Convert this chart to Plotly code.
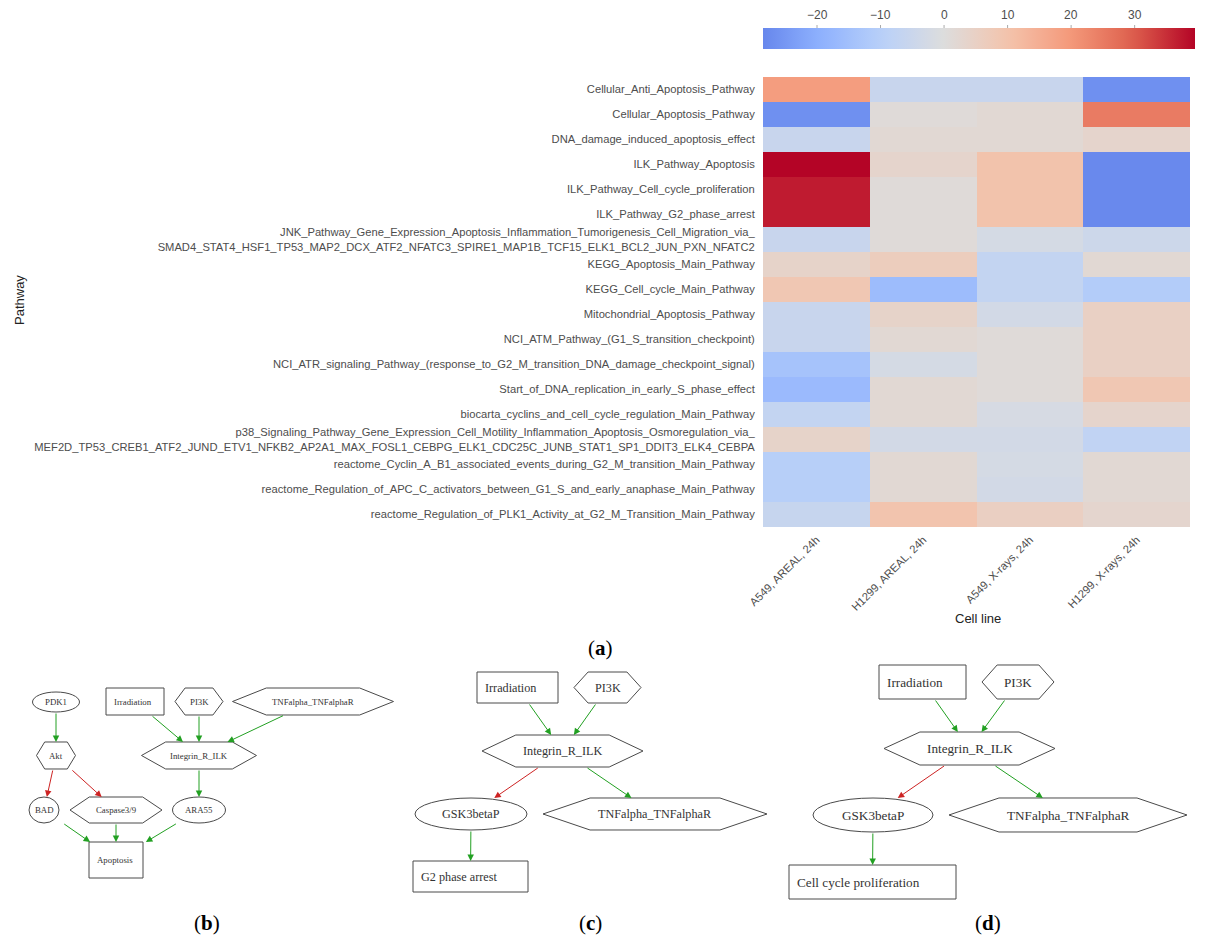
import plotly.graph_objects as go

# ---------------- heatmap data ----------------
pathways = [
    "Cellular_Anti_Apoptosis_Pathway",
    "Cellular_Apoptosis_Pathway",
    "DNA_damage_induced_apoptosis_effect",
    "ILK_Pathway_Apoptosis",
    "ILK_Pathway_Cell_cycle_proliferation",
    "ILK_Pathway_G2_phase_arrest",
    "JNK_Pathway_Gene_Expression_Apoptosis_Inflammation_Tumorigenesis_Cell_Migration_via_<br>SMAD4_STAT4_HSF1_TP53_MAP2_DCX_ATF2_NFATC3_SPIRE1_MAP1B_TCF15_ELK1_BCL2_JUN_PXN_NFATC2",
    "KEGG_Apoptosis_Main_Pathway",
    "KEGG_Cell_cycle_Main_Pathway",
    "Mitochondrial_Apoptosis_Pathway",
    "NCI_ATM_Pathway_(G1_S_transition_checkpoint)",
    "NCI_ATR_signaling_Pathway_(response_to_G2_M_transition_DNA_damage_checkpoint_signal)",
    "Start_of_DNA_replication_in_early_S_phase_effect",
    "biocarta_cyclins_and_cell_cycle_regulation_Main_Pathway",
    "p38_Signaling_Pathway_Gene_Expression_Cell_Motility_Inflammation_Apoptosis_Osmoregulation_via_<br>MEF2D_TP53_CREB1_ATF2_JUND_ETV1_NFKB2_AP2A1_MAX_FOSL1_CEBPG_ELK1_CDC25C_JUNB_STAT1_SP1_DDIT3_ELK4_CEBPA",
    "reactome_Cyclin_A_B1_associated_events_during_G2_M_transition_Main_Pathway",
    "reactome_Regulation_of_APC_C_activators_between_G1_S_and_early_anaphase_Main_Pathway",
    "reactome_Regulation_of_PLK1_Activity_at_G2_M_Transition_Main_Pathway",
]
cell_lines = ["A549, AREAL, 24h", "H1299, AREAL, 24h", "A549, X-rays, 24h", "H1299, X-rays, 24h"]

a549_areal = [19, -26.5, -5.5, 39.5, 37, 37, -5.5, 4, 8.5, -5.5, -5.5, -14, -16.5, -7, 4, -10, -10, -6]
h1299_areal = [-5.5, 1, 2, 3.5, 1, 1, 1, 6.5, -16, 4, 2, -2.5, 2, 2, -3, 2, 2, 9.5]
a549_xrays = [-5.5, 2, 2, 10, 10, 10, -2.5, -7, -7, -3, 1, 1, 1, -2, -3, -2.5, -3, 5.5]
h1299_xrays = [-26.5, 25, 3.5, -28, -28, -28, -4.5, 2, -11, 5, 5, 5, 8.5, 3.5, -7.5, 2, 2, 3]

cbar_ticks = [-20, -10, 0, 10, 20, 30]
zmin, zmax = -28.5, 39.5

# coolwarm, centred on 0 (symmetric), cropped to data range
cw = [(0.0, (58, 76, 193)), (0.125, (98, 130, 234)), (0.25, (141, 176, 254)),
      (0.375, (184, 208, 249)), (0.5, (221, 221, 221)), (0.625, (244, 196, 173)),
      (0.75, (244, 154, 123)), (0.875, (222, 96, 77)), (1.0, (180, 4, 38))]


def cw_at(t):
    for (t0, c0), (t1, c1) in zip(cw[:-1], cw[1:]):
        if t <= t1:
            f = (t - t0) / (t1 - t0)
            return tuple(round(a + (b - a) * f) for a, b in zip(c0, c1))
    return cw[-1][1]


M = max(abs(zmin), abs(zmax))
cscale = []
n = 24
for i in range(n + 1):
    s = i / n
    v = zmin + s * (zmax - zmin)
    t = (v + M) / (2 * M)
    r, g, b = cw_at(t)
    cscale.append([s, f"rgb({r},{g},{b})"])

z = [list(r) for r in zip(a549_areal, h1299_areal, a549_xrays, h1299_xrays)]

W, H = 1207, 944
OFF = 8  # page body margin
CB_X0, CB_X1, CB_Y0, CB_Y1 = 763, 1195, 28, 49


def px(x):
    return (x - OFF) / W


def py(y):
    return 1 - (y - OFF) / H


fig = go.Figure()
fig.add_trace(go.Heatmap(
    z=z, x=cell_lines, y=pathways, colorscale=cscale, zmin=zmin, zmax=zmax,
    xaxis="x", yaxis="y",
    colorbar=dict(orientation="h", x=px((CB_X0 + CB_X1) / 2), xanchor="center",
                  y=py(CB_Y0), yanchor="top",
                  len=(CB_X1 - CB_X0) / W, lenmode="fraction",
                  thickness=CB_Y1 - CB_Y0, outlinewidth=0, xpad=0, ypad=0,
                  showticklabels=False, ticks=""),
))

# ---------------- network diagrams ----------------
nodes_b = [
    ("PDK1", "ellipse", 56, 702, 47, 20),
    ("Irradiation", "rect", 135, 701.5, 58, 27),
    ("PI3K", "hex", 199, 701.5, 48, 27),
    ("TNFalpha_TNFalphaR", "hex", 313, 701.5, 161, 27),
    ("Akt", "hex", 56, 755.5, 39, 27),
    ("Integrin_R_ILK", "hex", 199, 755.5, 115, 27),
    ("BAD", "ellipse", 44, 810, 30, 26),
    ("Caspase3/9", "hex", 116, 810, 92, 26),
    ("ARA55", "ellipse", 199, 810, 53, 26),
    ("Apoptosis", "rect", 116, 860, 54, 36),
]
edges_b = [("PDK1", "Akt", "g"), ("Akt", "BAD", "r"), ("Akt", "Caspase3/9", "r"),
           ("Irradiation", "Integrin_R_ILK", "g"), ("PI3K", "Integrin_R_ILK", "g"),
           ("TNFalpha_TNFalphaR", "Integrin_R_ILK", "g"), ("Integrin_R_ILK", "ARA55", "g"),
           ("BAD", "Apoptosis", "g"), ("Caspase3/9", "Apoptosis", "g"), ("ARA55", "Apoptosis", "g")]

nodes_c = [
    ("Irradiation", "rect", 517.5, 687.5, 81, 31),
    ("PI3K", "hex", 607.5, 687.5, 67, 31),
    ("Integrin_R_ILK", "hex", 562.5, 751, 161, 32),
    ("GSK3betaP", "ellipse", 471, 814, 112, 32),
    ("TNFalpha_TNFalphaR", "hex", 655, 814, 224, 32),
    ("G2 phase arrest", "rect", 470.5, 876.5, 115, 31),
]
edges_c = [("Irradiation", "Integrin_R_ILK", "g"), ("PI3K", "Integrin_R_ILK", "g"),
           ("Integrin_R_ILK", "GSK3betaP", "r"), ("Integrin_R_ILK", "TNFalpha_TNFalphaR", "g"),
           ("GSK3betaP", "G2 phase arrest", "g")]

nodes_d = [
    ("Irradiation", "rect", 922.5, 682, 87, 34),
    ("PI3K", "hex", 1018, 682, 72, 34),
    ("Integrin_R_ILK", "hex", 969.5, 748.5, 171, 33),
    ("GSK3betaP", "ellipse", 873, 815, 120, 34),
    ("TNFalpha_TNFalphaR", "hex", 1068, 815, 238, 34),
    ("Cell cycle proliferation", "rect", 872.5, 882, 167, 34),
]
edges_d = [("Irradiation", "Integrin_R_ILK", "g"), ("PI3K", "Integrin_R_ILK", "g"),
           ("Integrin_R_ILK", "GSK3betaP", "r"), ("Integrin_R_ILK", "TNFalpha_TNFalphaR", "g"),
           ("GSK3betaP", "Cell cycle proliferation", "g")]

panels = [(nodes_b, edges_b, 8.8), (nodes_c, edges_c, 12.2), (nodes_d, edges_d, 13.2)]
edge_colors = {"g": "rgb(34,160,34)", "r": "rgb(205,35,35)"}
line_col = "#4a4a4a"

shapes = []
annotations = []
for nodes, edges, fs in panels:
    lookup = {nd[0]: nd for nd in nodes}
    for label, shp, cx, cy, w, h in nodes:
        x0, x1, y0, y1 = cx - w / 2, cx + w / 2, cy - h / 2, cy + h / 2
        if shp == "rect":
            shapes.append(dict(type="rect", xref="paper", yref="paper", x0=px(x0), x1=px(x1),
                               y0=py(y0), y1=py(y1), line=dict(color=line_col, width=1)))
            lx, anchor = x0 + 6, "left"
        elif shp == "ellipse":
            shapes.append(dict(type="circle", xref="paper", yref="paper", x0=px(x0), x1=px(x1),
                               y0=py(y0), y1=py(y1), line=dict(color=line_col, width=1)))
            lx, anchor = cx, "center"
        else:
            ins = 0.21 * w
            pts = [(x0, cy), (x0 + ins, y0), (x1 - ins, y0), (x1, cy), (x1 - ins, y1), (x0 + ins, y1)]
            path = "M " + " L ".join(f"{px(a):.5f},{py(b):.5f}" for a, b in pts) + " Z"
            shapes.append(dict(type="path", xref="paper", yref="paper", path=path,
                               line=dict(color=line_col, width=1)))
            lx, anchor = cx, "center"
        annotations.append(dict(x=px(lx), y=py(cy), xref="paper", yref="paper", text=label,
                                showarrow=False, xanchor=anchor, yanchor="middle",
                                font=dict(family="Liberation Serif, Times New Roman", size=fs,
                                          color="#333333")))
    for s, d, c in edges:
        _, _, sx, sy, sw, sh = lookup[s]
        _, _, dx, dy, dw, dh = lookup[d]
        y_start = sy + sh / 2
        y_end = dy - dh / 2
        x_start = sx + (dx - sx) * (y_start - sy) / (dy - sy)
        x_end = sx + (dx - sx) * (y_end - sy) / (dy - sy)
        annotations.append(dict(x=px(x_end), y=py(y_end), xref="paper", yref="paper",
                                ax=x_start - x_end, ay=y_start - y_end, axref="pixel", ayref="pixel",
                                text="", showarrow=True, arrowhead=2, arrowsize=1.3, arrowwidth=1,
                                arrowcolor=edge_colors[c], standoff=0, startstandoff=0))

# colorbar tick labels (placed above the bar)
for v in cbar_ticks:
    xv = CB_X0 + (v - zmin) / (zmax - zmin) * (CB_X1 - CB_X0)
    annotations.append(dict(x=px(xv), y=py(CB_Y0 - 4), xref="paper", yref="paper",
                            text=f"\u2212{abs(v)}" if v < 0 else str(v), showarrow=False,
                            xanchor="center", yanchor="bottom",
                            font=dict(family="Liberation Sans, Arial", size=12, color="#4d4d4d")))
    shapes.append(dict(type="line", xref="paper", yref="paper", x0=px(xv), x1=px(xv),
                       y0=py(CB_Y0), y1=py(CB_Y0 - 3), line=dict(color="#aaaaaa", width=1)))

# panel labels
panel_labels = [("(<b>a</b>)", 600, 648), ("(<b>b</b>)", 207, 923),
                ("(<b>c</b>)", 590, 923), ("(<b>d</b>)", 988, 923)]
for txt, lx, ly in panel_labels:
    annotations.append(dict(x=px(lx), y=py(ly), xref="paper", yref="paper", text=txt,
                            showarrow=False, xanchor="center", yanchor="middle",
                            font=dict(family="Liberation Serif, Times New Roman", size=21,
                                      color="black")))

# axis titles
annotations.append(dict(x=px(978), y=py(618), xref="paper", yref="paper", text="Cell line",
                        showarrow=False, xanchor="center", yanchor="middle",
                        font=dict(family="Liberation Sans, Arial", size=13, color="#222222")))
annotations.append(dict(x=px(19), y=py(300), xref="paper", yref="paper", text="Pathway",
                        showarrow=False, textangle=-90, xanchor="center", yanchor="middle",
                        font=dict(family="Liberation Sans, Arial", size=13, color="#222222")))

fig.update_layout(
    width=W, height=H, margin=dict(l=0, r=0, t=0, b=0, autoexpand=False),
    paper_bgcolor="white", plot_bgcolor="white", showlegend=False,
    font=dict(family="Liberation Sans, Arial", color="#4d4d4d"),
    xaxis=dict(domain=[px(763), px(1190)], anchor="y", tickangle=-45, showgrid=False,
               zeroline=False, showline=False, ticks="outside", ticklen=1, tickcolor="white",
               automargin=False, tickfont=dict(size=11.2, color="#4d4d4d")),
    yaxis=dict(domain=[py(527), py(77)], anchor="x", autorange="reversed",
               showgrid=False, zeroline=False, showline=False, ticks="outside", ticklen=5,
               automargin=False, tickcolor="white", tickfont=dict(size=11.2, color="#4d4d4d")),
    shapes=shapes, annotations=annotations,
)

fig.write_html("out.html")
